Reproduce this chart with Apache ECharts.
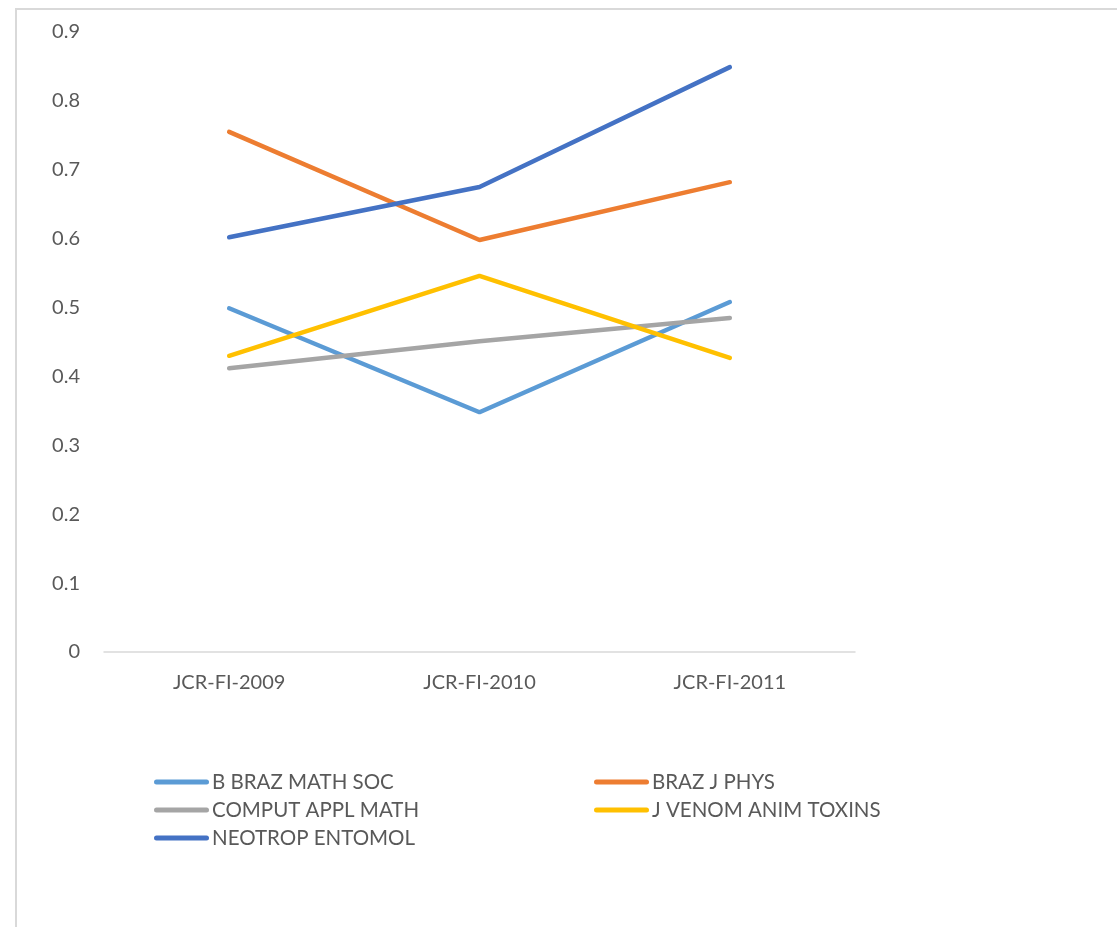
<!DOCTYPE html>
<html>
<head>
<meta charset="utf-8">
<script src="https://cdn.jsdelivr.net/npm/echarts@6/dist/echarts.min.js"></script>
<style>
html,body{margin:0;padding:0;background:#fff;overflow:hidden;}
#frame{position:absolute;left:15px;top:8px;width:1200px;height:1000px;border:2px solid #d9d9d9;box-sizing:border-box;}
#chart{position:absolute;left:0;top:0;width:1117px;height:927px;}
</style>
</head>
<body>
<div id="frame"></div>
<div id="chart"></div>
<script>
const categories = ['JCR-FI-2009', 'JCR-FI-2010', 'JCR-FI-2011'];
const seriesNames = ['B BRAZ MATH SOC', 'BRAZ J PHYS', 'COMPUT APPL MATH', 'J VENOM ANIM TOXINS', 'NEOTROP ENTOMOL'];
const bBrazMathSoc = [0.499, 0.348, 0.508];
const brazJPhys = [0.755, 0.598, 0.682];
const computApplMath = [0.412, 0.451, 0.485];
const jVenomAnimToxins = [0.430, 0.546, 0.427];
const neotropEntomol = [0.602, 0.675, 0.849];
const yTicks = [0, 0.1, 0.2, 0.3, 0.4, 0.5, 0.6, 0.7, 0.8, 0.9];

const colors = ['#5B9BD5', '#ED7D31', '#A5A5A5', '#FFC000', '#4472C4'];
const values = [bBrazMathSoc, brazJPhys, computApplMath, jVenomAnimToxins, neotropEntomol];
const font = 'Lato, Carlito, sans-serif';

const chart = echarts.init(document.getElementById('chart'));
const legendCommon = {
  orient: 'vertical',
  itemWidth: 55,
  itemHeight: 5,
  itemGap: 0,
  icon: 'path://M2.5,0H52.5A2.5,2.5,0,0,1,52.5,5H2.5A2.5,2.5,0,0,1,2.5,0Z',
  textStyle: {color: '#595959', fontSize: 20.5, fontFamily: font, lineHeight: 28, padding: [0,0,0,-2]},
  padding: 0
};
chart.setOption({
  animation: false,
  color: colors,
  legend: [
    Object.assign({}, legendCommon, {left: 154, top: 768, data: [seriesNames[0], seriesNames[2], seriesNames[4]]}),
    Object.assign({}, legendCommon, {left: 594, top: 768, data: [seriesNames[1], seriesNames[3]]})
  ],
  grid: {left: 104, right: 262, top: 32, bottom: 275, containLabel: false},
  xAxis: {
    type: 'category',
    data: categories,
    boundaryGap: true,
    axisLine: {lineStyle: {color: '#d9d9d9', width: 1.5}},
    axisTick: {show: false},
    axisLabel: {color: '#595959', fontSize: 20, fontFamily: font, margin: 21}
  },
  yAxis: {
    type: 'value',
    min: 0,
    max: 0.9,
    interval: 0.1,
    splitLine: {show: false},
    axisLine: {show: false},
    axisTick: {show: false},
    axisLabel: {color: '#595959', fontSize: 20, fontFamily: font, margin: 24,
      formatter: v => { const t = yTicks.find(x => Math.abs(x - v) < 1e-9); return t === undefined ? '' : String(t); }}
  },
  series: seriesNames.map((n, i) => ({
    name: n,
    type: 'line',
    data: values[i],
    symbol: 'none',
    lineStyle: {width: 4.5, color: colors[i], cap: 'round'},
    itemStyle: {color: colors[i]}
  }))
});
</script>
</body>
</html>
